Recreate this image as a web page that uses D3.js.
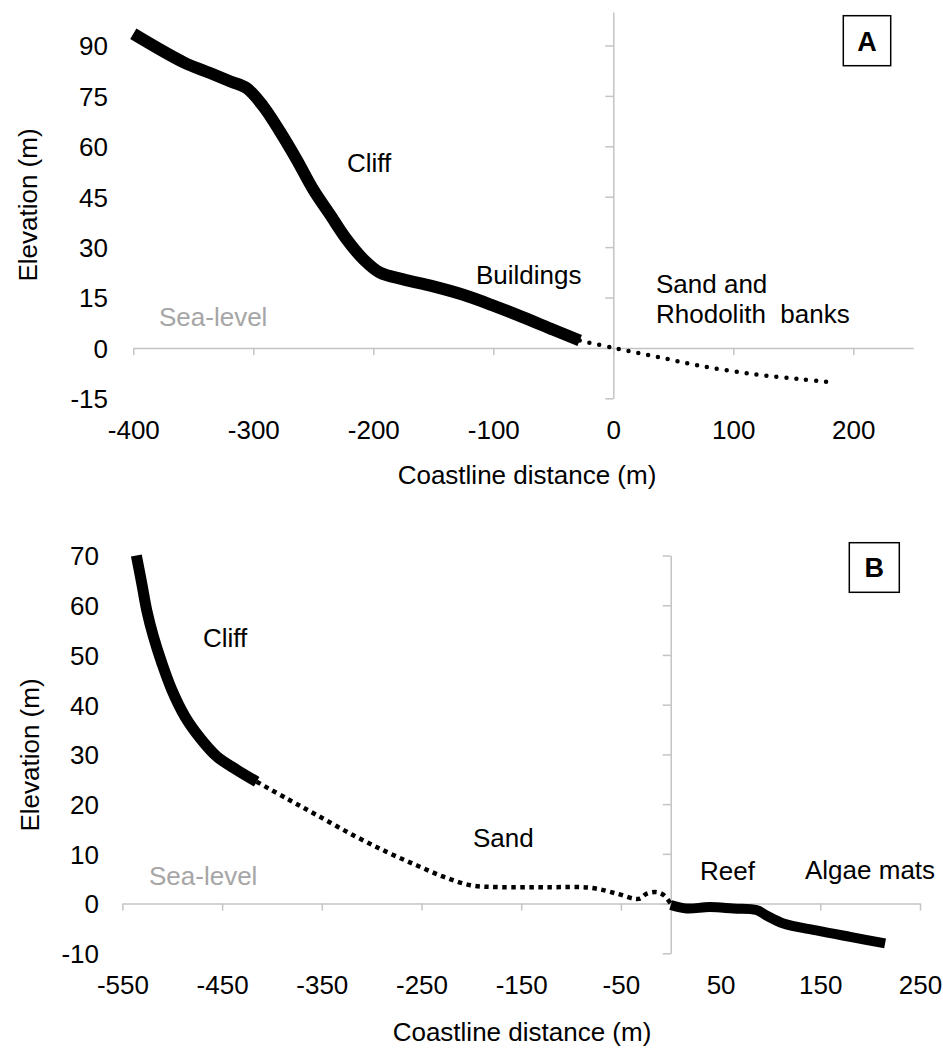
<!DOCTYPE html>
<html>
<head>
<meta charset="utf-8">
<script src="https://cdn.jsdelivr.net/npm/d3@7"></script>
<style>
  body { margin: 0; background: #fff; }
  svg { display: block; }
  text { font-family: "Liberation Sans", Arial, sans-serif; fill: #000; }
</style>
</head>
<body>
<svg id="fig" width="943" height="1049"></svg>
<script>
// ---- Profile A: cliff / buildings (solid) and sand-rhodolith shelf (dotted)
const aCoastDist = [-400, -358, -336, -319, -305.5, -291.7, -277.8, -263.8, -250, -236.1, -222.2, -208.3, -194.4, -175, -150, -125, -100, -75, -50, -28];
const aCoastElev = [93.5, 85, 81.8, 79.3, 77.3, 71.9, 64.4, 56.0, 47.1, 39.7, 32.3, 26.4, 22.4, 20.4, 18.3, 15.8, 12.6, 9.1, 5.4, 2.2];
const aShelfDist = [-28, 0, 33, 72, 117, 156, 183];
const aShelfElev = [2.2, 0, -2.4, -5.3, -7.8, -9.3, -10.3];
const aXTicks = [-400, -300, -200, -100, 0, 100, 200];
const aYTicks = [-15, 0, 15, 30, 45, 60, 75, 90];

// ---- Profile B: cliff (solid), sand (dotted), reef and algae mats (solid)
const bCliffDist = [-536, -530.6, -525.6, -518.9, -510.5, -500.5, -487.2, -472.1, -455.4, -435.3, -415.3];
const bCliffElev = [70, 64.4, 59.0, 53.7, 48.4, 43.0, 37.6, 33.3, 29.6, 26.9, 24.5];
const bSandDist = [-415.3, -385, -355, -318, -285, -255, -228, -201, -171, -121, -81, -54, -37, -31, -24, -14, -7, 0];
const bSandElev = [24.5, 21.1, 17.8, 13.7, 10.4, 7.7, 5.4, 3.7, 3.3, 3.3, 3.2, 2.0, 1.0, 1.0, 2.0, 2.3, 1.7, 0];
const bReefDist = [0, 16, 39, 63, 86, 96, 113, 146, 180, 215];
const bReefElev = [-0.3, -1.0, -0.7, -1.0, -1.3, -2.4, -4.0, -5.4, -6.7, -8.0];
const bXTicks = [-550, -450, -350, -250, -150, -50, 50, 150, 250];
const bYTicks = [-10, 0, 10, 20, 30, 40, 50, 60, 70];

const zip = (xs, ys) => xs.map((x, i) => [x, ys[i]]);

const svg = d3.select("#fig");
const FONT = 26;
const FAMILY = '"Liberation Sans", Arial, sans-serif';
const AXIS_GREY = "#c4c4c4";
const plain = d => String(d);   // keeps an ASCII hyphen for negatives

function drawPanel(p) {
  const x = d3.scaleLinear().domain(p.xDomain).range(p.xRange);
  const y = d3.scaleLinear().domain(p.yDomain).range(p.yRange);
  const g = svg.append("g");

  // axis lines crossing at the origin, with tick marks only
  const xAxis = g.append("g")
    .attr("transform", `translate(0,${y(0)})`)
    .call(d3.axisBottom(x).tickValues(p.xTicks).tickSize(7).tickSizeOuter(0).tickFormat(""));
  const yAxis = g.append("g")
    .attr("transform", `translate(${x(0)},0)`)
    .call(d3.axisLeft(y).tickValues(p.yTicks).tickSize(8).tickSizeOuter(0).tickFormat(""));
  [xAxis, yAxis].forEach(a => {
    a.selectAll("path, line").attr("stroke", AXIS_GREY).attr("stroke-width", 1.5);
  });

  // tick labels placed at the low edges of the plot
  const xLab = g.append("g")
    .attr("transform", `translate(0,${p.xLabelBase})`)
    .call(d3.axisBottom(x).tickValues(p.xTicks).tickSize(0).tickPadding(0).tickFormat(plain));
  xLab.select(".domain").remove();
  xLab.selectAll("text").attr("dy", 0).attr("y", 0)
    .style("font-size", FONT + "px").style("font-family", FAMILY).attr("fill", "#000");

  const yLab = g.append("g")
    .attr("transform", `translate(${p.yLabelRight},0)`)
    .call(d3.axisLeft(y).tickValues(p.yTicks).tickSize(0).tickPadding(0).tickFormat(plain));
  yLab.select(".domain").remove();
  yLab.selectAll("text").attr("dy", "0.36em").attr("x", 0)
    .style("font-size", FONT + "px").style("font-family", FAMILY).attr("fill", "#000");

  // axis titles
  g.append("text")
    .attr("x", p.xTitle[0]).attr("y", p.xTitle[1])
    .attr("text-anchor", "middle").style("font-size", FONT + "px")
    .text("Coastline distance (m)");
  g.append("text")
    .attr("transform", `translate(${p.yTitle[0]},${p.yTitle[1]}) rotate(-90)`)
    .attr("text-anchor", "middle").style("font-size", FONT + "px")
    .text("Elevation (m)");

  // profile segments
  const line = d3.line()
    .x(d => x(d[0])).y(d => y(d[1]))
    .curve(d3.curveCatmullRom.alpha(0.5));
  p.segments.forEach(s => {
    g.append("path")
      .datum(s.data)
      .attr("d", line)
      .attr("fill", "none")
      .attr("stroke", "#000")
      .attr("stroke-width", s.width)
      .attr("stroke-linecap", s.cap || "butt")
      .attr("stroke-linejoin", "round")
      .attr("stroke-dasharray", s.dash || null);
  });

  // zone annotations
  p.notes.forEach(n => {
    g.append("text")
      .attr("x", n.x).attr("y", n.y)
      .style("font-size", FONT + "px")
      .style("fill", n.color || "#000")
      .text(n.text);
  });

  // panel letter
  g.append("rect")
    .attr("x", p.badge.x).attr("y", p.badge.y)
    .attr("width", p.badge.w).attr("height", p.badge.h)
    .attr("fill", "#fff").attr("stroke", "#000").attr("stroke-width", 1.5);
  g.append("text")
    .attr("x", p.badge.x + p.badge.w / 2).attr("y", p.badge.base)
    .attr("text-anchor", "middle")
    .style("font-size", "27px").style("font-weight", "bold")
    .text(p.badge.label);
}

drawPanel({
  xDomain: [-400, 250], xRange: [133.3, 913.3],
  yDomain: [-15, 100], yRange: [398.3, 11.9],
  xTicks: aXTicks, yTicks: aYTicks,
  xLabelBase: 439, yLabelRight: 108,
  xTitle: [527, 484], yTitle: [37, 205],
  segments: [
    { data: zip(aCoastDist, aCoastElev), width: 12 },
    { data: zip(aShelfDist, aShelfElev), width: 4.5, cap: "round", dash: "0 10" }
  ],
  notes: [
    { text: "Cliff", x: 347, y: 172 },
    { text: "Buildings", x: 476, y: 284 },
    { text: "Sea-level", x: 159, y: 326, color: "#a6a6a6" },
    { text: "Sand and", x: 656, y: 293 },
    { text: "Rhodolith\u00a0 banks", x: 656, y: 323 }
  ],
  badge: { x: 843.3, y: 15.7, w: 47.4, h: 50, base: 50.5, label: "A" }
});

drawPanel({
  xDomain: [-550, 250], xRange: [122.4, 920],
  yDomain: [-10, 70], yRange: [953.3, 555.5],
  xTicks: bXTicks, yTicks: bYTicks,
  xLabelBase: 994, yLabelRight: 99,
  xTitle: [522, 1041], yTitle: [39, 755],
  segments: [
    { data: zip(bCliffDist, bCliffElev), width: 11 },
    { data: zip(bSandDist, bSandElev), width: 4.5, dash: "4.5 4.5" },
    { data: zip(bReefDist, bReefElev), width: 10 }
  ],
  notes: [
    { text: "Cliff", x: 203, y: 647 },
    { text: "Sand", x: 473, y: 847 },
    { text: "Sea-level", x: 149, y: 885, color: "#a6a6a6" },
    { text: "Reef", x: 700, y: 880 },
    { text: "Algae mats", x: 805, y: 879 }
  ],
  badge: { x: 849.3, y: 542.7, w: 50, h: 49.6, base: 577, label: "B" }
});
</script>
</body>
</html>
